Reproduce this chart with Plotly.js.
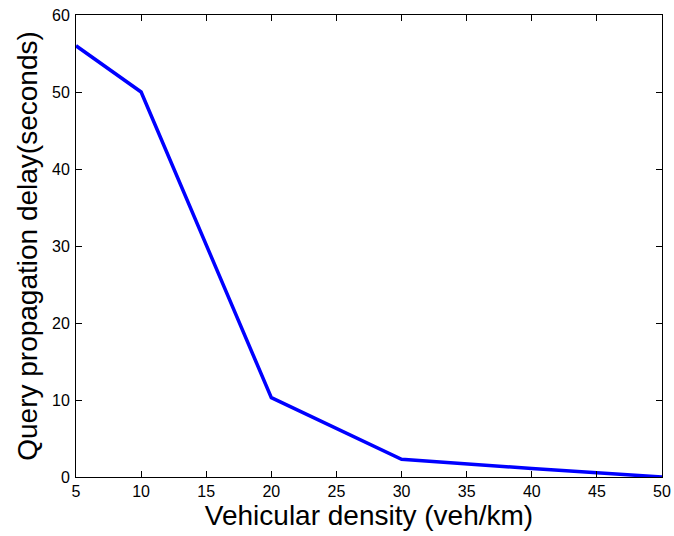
<!DOCTYPE html>
<html>
<head>
<script src="https://cdn.plot.ly/plotly-3.0.1.min.js"></script>
<style>body{margin:0;padding:0;background:#fff;}</style>
</head>
<body>
<div id="chart" style="width:674px;height:536px;"></div>
<script>
const density = [5, 10, 20, 30, 40, 50];
const delay = [56, 50, 10.3, 2.3, 1.1, 0];
const xTicks = [5, 10, 15, 20, 25, 30, 35, 40, 45, 50];
const yTicks = [0, 10, 20, 30, 40, 50, 60];

const trace = {
  x: density, y: delay, type: 'scatter', mode: 'lines',
  line: {color: '#0000ff', width: 3.5}, cliponaxis: false, hoverinfo: 'none'
};
const axisCommon = {
  showgrid: false, zeroline: false, showline: true, mirror: 'ticks',
  linecolor: '#000', linewidth: 1, ticks: 'inside', ticklen: 6, tickcolor: '#000',
  tickfont: {family: 'Liberation Sans, Arial, sans-serif', size: 16, color: '#000'}
};
const layout = {
  width: 674, height: 536,
  margin: {l: 76, r: 12, t: 15, b: 59},
  paper_bgcolor: '#fff', plot_bgcolor: '#fff',
  showlegend: false,
  xaxis: Object.assign({}, axisCommon, {
    range: [5, 50], tickvals: xTicks, ticktext: xTicks.map(String),
    title: {text: 'Vehicular density (veh/km)', font: {family: 'Liberation Sans, Arial, sans-serif', size: 28, color: '#000'}, standoff: 0}
  }),
  yaxis: Object.assign({}, axisCommon, {
    range: [0, 60], tickvals: yTicks, ticktext: yTicks.map(String), ticklabelstandoff: 2,
    title: {text: 'Query propagation delay(seconds)', font: {family: 'Liberation Sans, Arial, sans-serif', size: 28, color: '#000'}, standoff: 6}
  })
};
Plotly.newPlot('chart', [trace], layout, {displayModeBar: false, staticPlot: true});
</script>
</body>
</html>
